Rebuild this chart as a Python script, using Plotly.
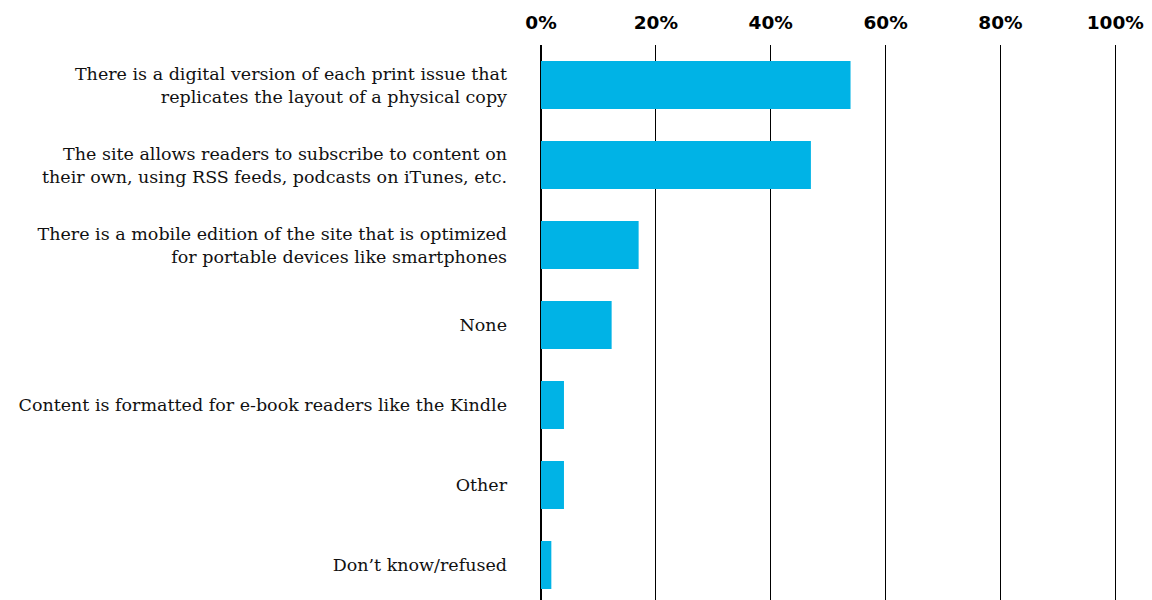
import plotly.graph_objects as go

categories = [
    "There is a digital version of each print issue that<br>replicates the layout of a physical copy",
    "The site allows readers to subscribe to content on<br>their own, using RSS feeds, podcasts on iTunes, etc.",
    "There is a mobile edition of the site that is optimized<br>for portable devices like smartphones",
    "None",
    "Content is formatted for e-book readers like the Kindle",
    "Other",
    "Don’t know/refused",
]
values = [53.9, 47.0, 17.0, 12.3, 4.0, 4.0, 1.8]
tick_vals = [0, 20, 40, 60, 80, 100]
tick_text = ["0%", "20%", "40%", "60%", "80%", "100%"]

fig = go.Figure(go.Bar(
    x=values, y=categories, orientation="h",
    marker=dict(color="#00B3E6", line=dict(width=0)),
    width=0.6,
))

fig.update_layout(
    width=1144, height=592,
    margin=dict(l=533, r=35, t=37, b=0, autoexpand=False),
    paper_bgcolor="white", plot_bgcolor="white",
    showlegend=False,
    xaxis=dict(
        side="top", range=[0, 100.3], automargin=False,
        tickvals=tick_vals, ticktext=tick_text,
        showgrid=True, gridcolor="black", gridwidth=1,
        zeroline=True, zerolinecolor="black", zerolinewidth=1.5,
        showline=False, ticks="",
        tickfont=dict(family="DejaVu Sans", size=18.5, color="black", weight="bold"),
        ticklabelstandoff=11,
    ),
    yaxis=dict(
        categoryorder="array", categoryarray=categories,
        range=[6.4375, -0.5], autorange=False, automargin=False,
        showgrid=False, zeroline=False, showline=False, ticks="",
        tickfont=dict(family="DejaVu Serif", size=17.5, color="#111111"),
        ticklabelstandoff=33,
    ),
    bargap=0.4,
)

fig.write_html("out.html")
